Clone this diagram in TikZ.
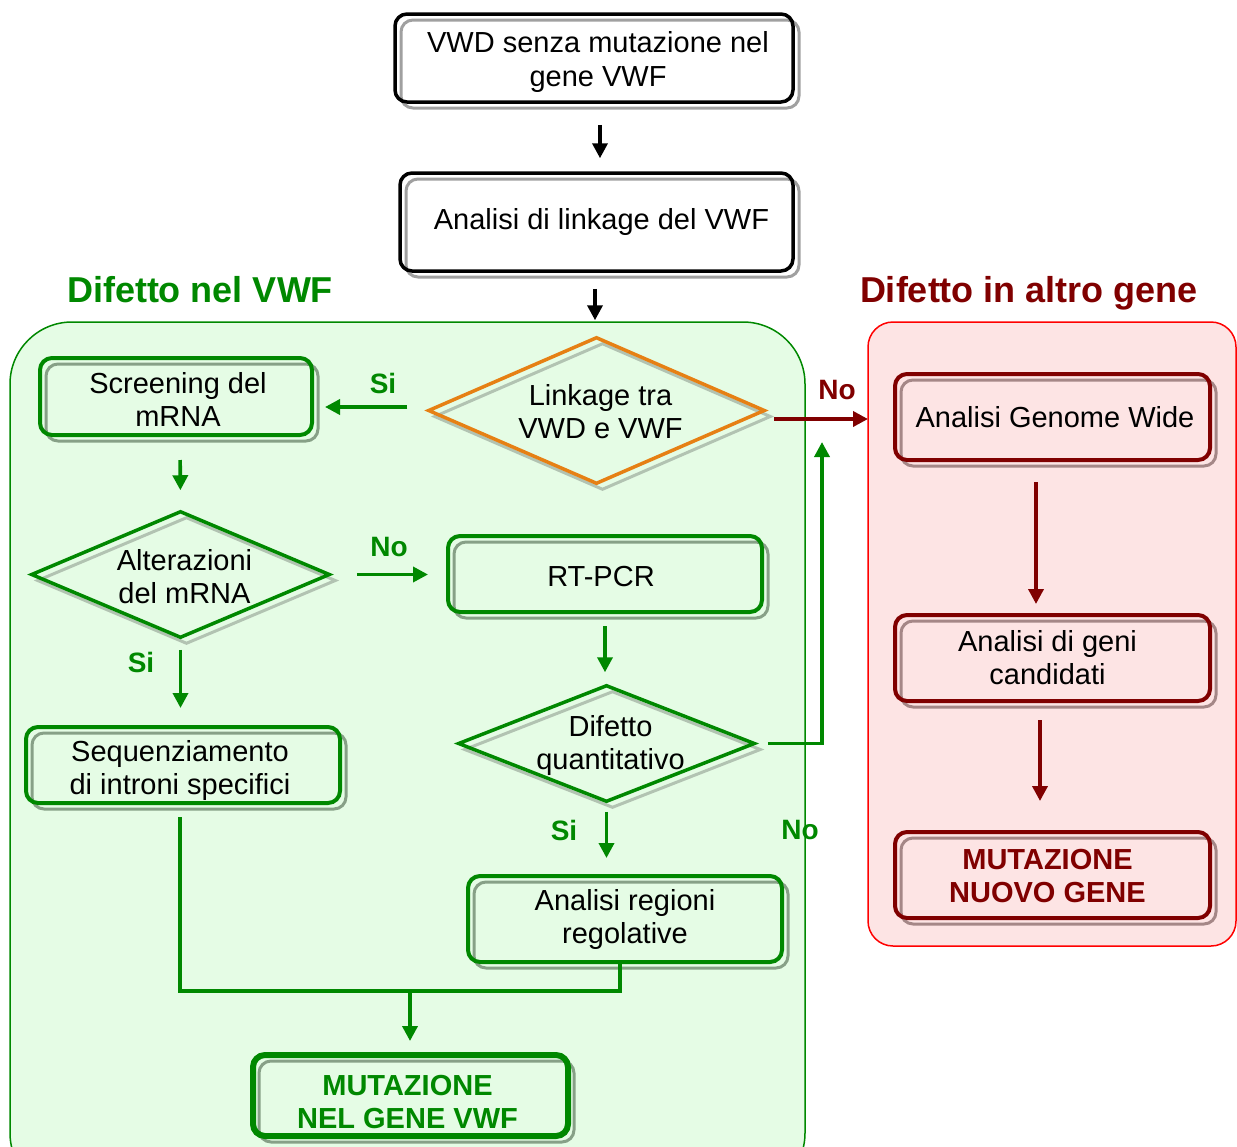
\documentclass[tikz,border=0pt]{standalone}
\usepackage{fontspec}
\setmainfont{Liberation Sans}
\usetikzlibrary{arrows.meta,shapes.geometric}
\definecolor{gr}{RGB}{0,136,0}
\definecolor{dr}{RGB}{128,0,0}
\definecolor{orng}{RGB}{230,128,20}
\definecolor{gfill}{RGB}{229,252,229}
\definecolor{rfill}{RGB}{253,228,228}
\definecolor{rborder}{RGB}{255,0,0}
\definecolor{shw}{RGB}{160,160,160}
\definecolor{shg}{RGB}{135,160,135}
\definecolor{shr}{RGB}{165,135,135}
\definecolor{shd}{RGB}{178,195,178}
\begin{document}
\begin{tikzpicture}[x=1pt,y=-1pt,
  txt/.style={font=\fontsize{29}{33}\selectfont, align=center},
  btxt/.style={txt, font=\bfseries\fontsize{29}{33}\selectfont},
  lab/.style={font=\bfseries\fontsize{28}{32}\selectfont},
  ttl/.style={font=\bfseries\fontsize{36}{40}\selectfont},
  shadowed/.style={preaction={draw=#1, line width=3pt, transform canvas={xshift=6pt,yshift=-6pt}}},
  box/.style={draw, rounded corners=12pt, inner sep=0pt, line width=3.5pt},
  bbox/.style={box, draw=black, shadowed=shw},
  gbox/.style={box, draw=gr, line width=4pt, shadowed=shg},
  rbox/.style={box, draw=dr, line width=4pt, shadowed=shr},
  dia/.style={diamond, draw, line width=3.5pt, inner sep=0pt, shadowed=shd},
  arr/.style={line width=3.6pt, -{Triangle[length=15pt,width=15pt]}},
  garr/.style={arr, draw=gr},
  rarr/.style={arr, draw=dr},
  gline/.style={line width=3.6pt, draw=gr}
]
\useasboundingbox (0,0) rectangle (1237,1146);
% regions
\begin{scope}
\clip (0,0) rectangle (1237,1146);
\draw[draw=gr, fill=gfill, line width=1.5pt, rounded corners=62pt] (10,322) rectangle (805,1195);
\end{scope}
\draw[draw=rborder, fill=rfill, line width=1.5pt, rounded corners=25pt] (868,322) rectangle (1236,946);

% titles
\node[ttl, text=gr] (t1) at (200,290) {Difetto nel VWF};
\node[ttl, text=dr] (t2) at (1029,293) {Difetto in altro gene};

% boxes
\node[bbox, minimum width=398pt, minimum height=88pt,
  label={[txt, xshift=4pt, yshift=-4pt]center:VWD senza mutazione nel\\gene VWF}] (b1) at (594,58) {};
\node[bbox, minimum width=393pt, minimum height=98pt,
  label={[txt, xshift=5pt]center:Analisi di linkage del VWF}] (b2) at (596.5,222) {};
\node[gbox, minimum width=272pt, minimum height=77pt,
  label={[txt, xshift=2pt, yshift=-3pt]center:Screening del\\mRNA}] (scr) at (176,396.5) {};
\node[gbox, minimum width=314pt, minimum height=76pt,
  label={[txt, xshift=-4pt, yshift=-3pt]center:RT-PCR}] (rt) at (605,574) {};
\node[gbox, minimum width=314pt, minimum height=76pt,
  label={[txt, xshift=-3pt, yshift=-5pt]center:Sequenziamento\\di introni specifici}] (seq) at (183,765) {};
\node[gbox, minimum width=314pt, minimum height=86pt,
  label={[txt]center:Analisi regioni\\regolative}] (reg) at (625,919) {};
\node[gbox, line width=6pt, minimum width=315pt, minimum height=81pt,
  label={[btxt, text=gr, xshift=-3pt, yshift=-7pt]center:MUTAZIONE\\NEL GENE VWF}] (mut) at (410.5,1095.5) {};
\node[rbox, minimum width=315pt, minimum height=86pt,
  label={[txt, xshift=2.5pt]center:Analisi Genome Wide}] (gw) at (1052.5,417) {};
\node[rbox, minimum width=315pt, minimum height=86pt,
  label={[txt, xshift=-5pt]center:Analisi di geni\\candidati}] (cand) at (1052.5,658) {};
\node[rbox, minimum width=315pt, minimum height=86pt,
  label={[btxt, text=dr, xshift=-5pt, yshift=-1pt]center:MUTAZIONE\\NUOVO GENE}] (mn) at (1052.5,875) {};

% diamonds
\node[dia, draw=orng, minimum width=337pt, minimum height=147pt,
  label={[txt, xshift=4pt, yshift=-1pt]center:Linkage tra\\VWD e VWF}] (d1) at (596.5,410.5) {};
\node[dia, draw=gr, minimum width=299pt, minimum height=127pt,
  label={[txt, xshift=4pt, yshift=-2pt]center:Alterazioni\\del mRNA}] (d2) at (180.5,574.5) {};
\node[dia, draw=gr, minimum width=297pt, minimum height=117pt,
  label={[txt, xshift=4pt, yshift=-2pt]center:Difetto\\quantitativo}] (d3) at (606.5,743.5) {};

% labels
\node[lab, text=gr] (si1) at (383,383) {Si};
\node[lab, text=dr] (no1) at (837,390) {No};
\node[lab, text=gr] (no2) at (389,547) {No};
\node[lab, text=gr] (si2) at (141,662) {Si};
\node[lab, text=gr] (si3) at (564,830) {Si};
\node[lab, text=gr] (no3) at (800,830) {No};

% connectors
\draw[arr, shorten <=21pt, shorten >=13pt] ([xshift=6pt]b1.south) -- ([xshift=3.5pt]b2.north);
\draw[arr, shorten <=16pt, shorten >=15pt] ([xshift=-1.5pt]b2.south) -- ([xshift=-1.5pt]d1.north);
\draw[garr, shorten <=19pt, shorten >=11pt] ([yshift=3.5pt]d1.west) -- ([yshift=-10.5pt]scr.east);
\draw[rarr, shorten <=7pt, shorten >=25pt] ([yshift=-8.5pt]d1.east) -- ([yshift=-2pt]gw.west);
\draw[garr, shorten <=23pt, shorten >=19pt] ([xshift=4pt]scr.south) -- (d2.north);
\draw[garr, shorten <=25pt, shorten >=18pt] (d2.east) -- (d2.east -| rt.west);
\draw[garr, shorten <=10pt, shorten >=17pt] (d2.south) -- (d2.south |- seq.north);
\draw[garr, shorten <=12pt, shorten >=11pt] (rt.south) -- (rt.south |- d3.north);
\coordinate (up) at (822,442);
\draw[garr, shorten <=11pt] (d3.east) -| (up);
\draw[garr, shorten <=8pt, shorten >=16pt] (d3.south) -- (d3.south |- reg.north);
\coordinate (jn) at (410,991);
\draw[gline, shorten <=12pt] ([xshift=-3pt]seq.south) |- (jn) -| ([xshift=-5pt]reg.south);
\draw[garr, shorten >=11pt] (jn) -- (jn |- mut.north);
\draw[rarr, shorten <=20pt, shorten >=9pt] ([xshift=-16.5pt]gw.south) -- ([xshift=-16.5pt]cand.north);
\draw[rarr, shorten <=17pt, shorten >=29pt] ([xshift=-12.5pt]cand.south) -- ([xshift=-12.5pt]mn.north);
\end{tikzpicture}
\end{document}
